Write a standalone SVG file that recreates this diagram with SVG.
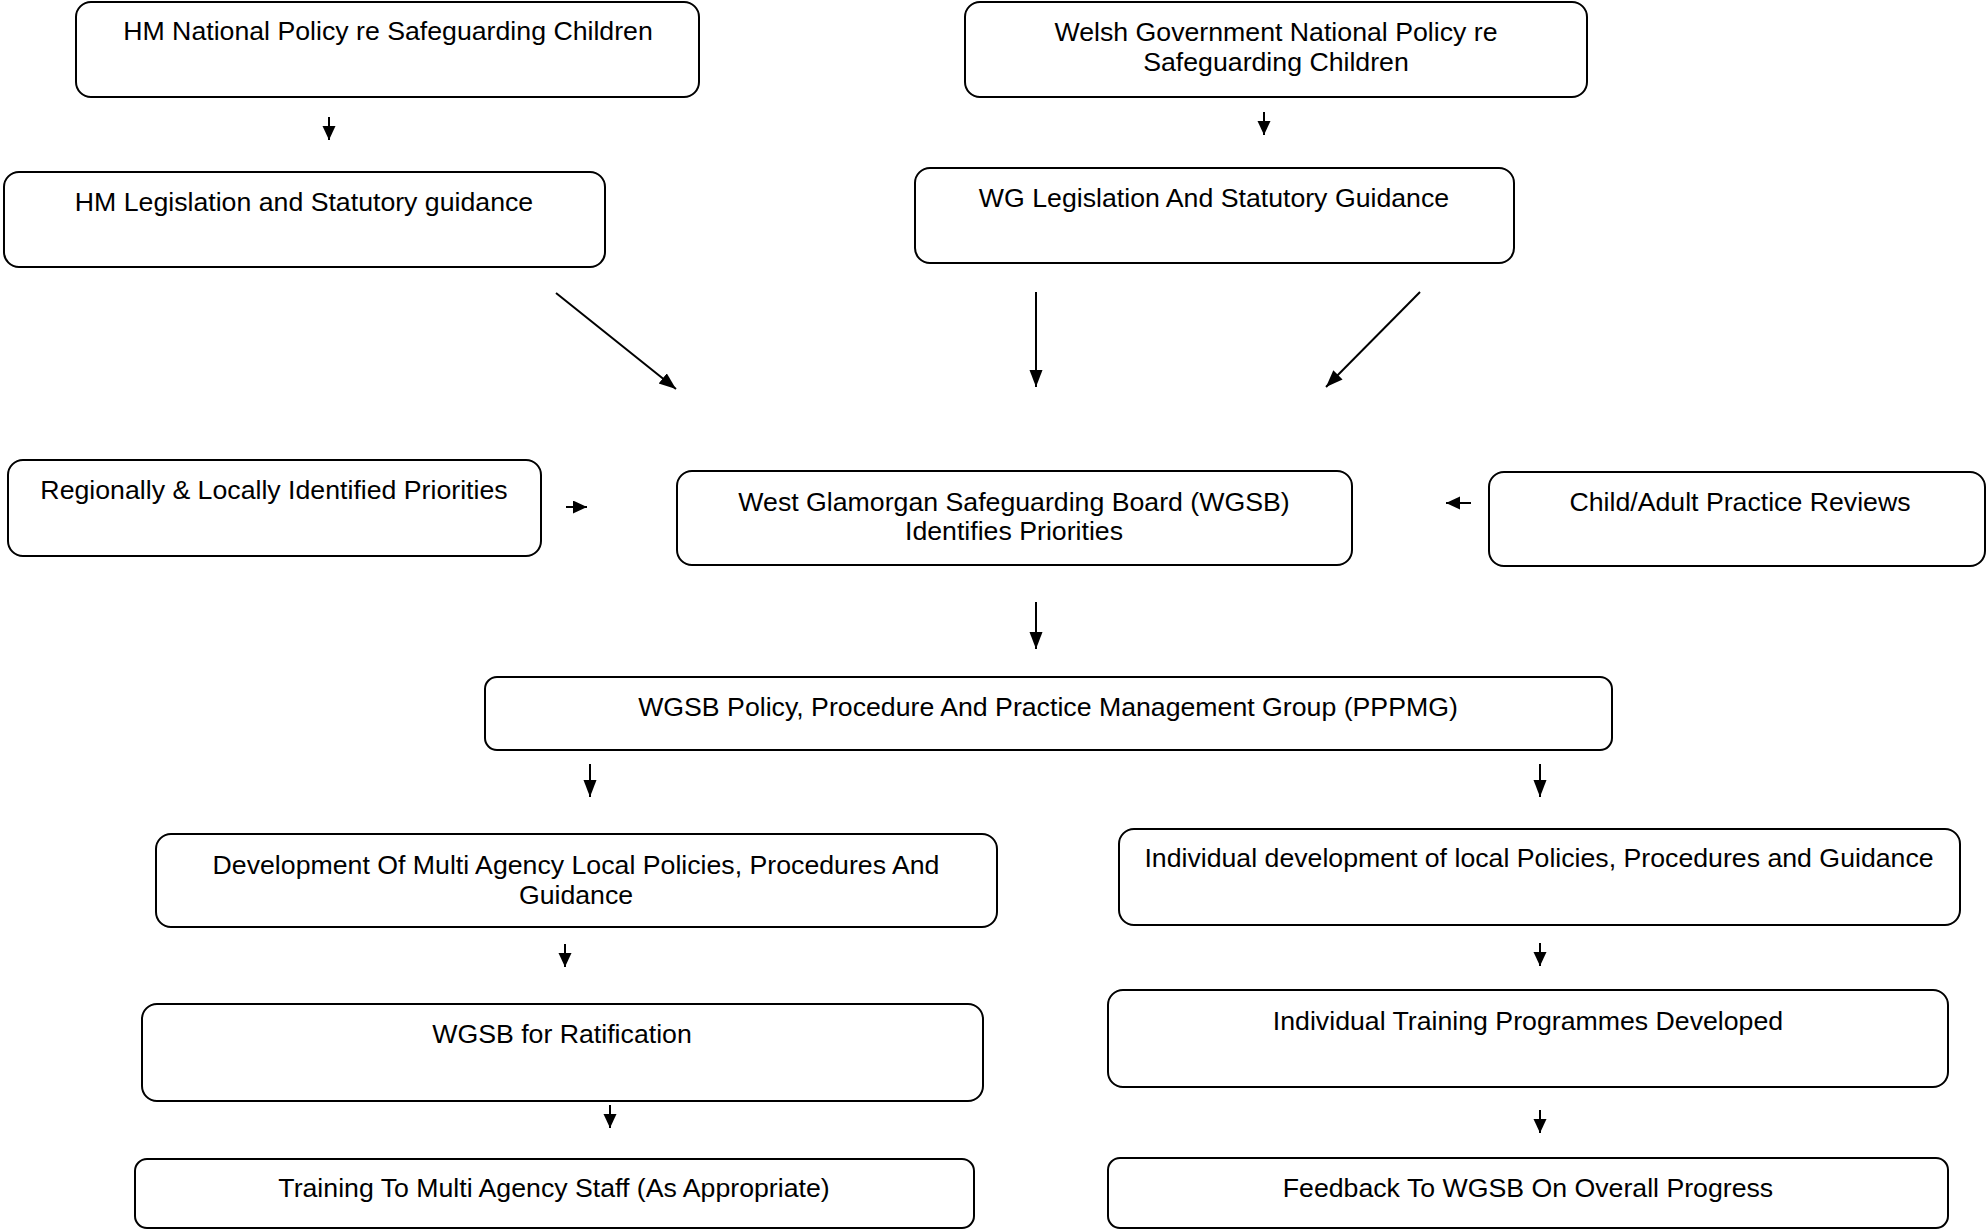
<svg xmlns="http://www.w3.org/2000/svg" width="1987" height="1230" viewBox="0 0 1987 1230">
<style>
.box{fill:#fff;stroke:#000;stroke-width:2}
.t{font-family:"Liberation Sans",Arial,sans-serif;font-size:26.7px;fill:#000;text-anchor:middle}
.c{stroke:#000;stroke-width:2;fill:none}
.cb{marker-end:url(#big)}
.cs{marker-end:url(#small)}
</style>
<defs>
<marker id="big" markerUnits="userSpaceOnUse" markerWidth="18" markerHeight="14" refX="17" refY="6.5" orient="auto">
<path d="M0,0 L17,6.5 L0,13 z" fill="#000"/>
</marker>
<marker id="small" markerUnits="userSpaceOnUse" markerWidth="16" markerHeight="14" refX="14" refY="6.5" orient="auto">
<path d="M0,0 L14,6.5 L0,13 z" fill="#000"/>
</marker>
</defs>
<rect width="1987" height="1230" fill="#fff"/>

<g id="connectors">
<line class="c cs" x1="329" y1="117" x2="329" y2="140"/>
<line class="c cs" x1="1264" y1="112" x2="1264" y2="135"/>
<line class="c cb" x1="556" y1="293" x2="676" y2="389"/>
<line class="c cb" x1="1036" y1="292" x2="1036" y2="387"/>
<line class="c cb" x1="1420" y1="292" x2="1326" y2="387"/>
<line class="c cs" x1="566" y1="507" x2="587" y2="507"/>
<line class="c cs" x1="1471" y1="503" x2="1446" y2="503"/>
<line class="c cb" x1="1036" y1="602" x2="1036" y2="649"/>
<line class="c cb" x1="590" y1="764" x2="590" y2="797"/>
<line class="c cb" x1="1540" y1="764" x2="1540" y2="797"/>
<line class="c cs" x1="565" y1="944" x2="565" y2="967"/>
<line class="c cs" x1="1540" y1="943" x2="1540" y2="966"/>
<line class="c cs" x1="610" y1="1105" x2="610" y2="1128"/>
<line class="c cs" x1="1540" y1="1110" x2="1540" y2="1133"/>
</g>

<g id="hm-national">
<rect class="box" x="76" y="2" width="623" height="95" rx="15"/>
<text class="t" x="388" y="40">HM National Policy re Safeguarding Children</text>
</g>
<g id="welsh-national">
<rect class="box" x="965" y="2" width="622" height="95" rx="15"/>
<text class="t" x="1276" y="41">Welsh Government National Policy re</text>
<text class="t" x="1276" y="71">Safeguarding Children</text>
</g>
<g id="hm-legislation">
<rect class="box" x="4" y="172" width="601" height="95" rx="15"/>
<text class="t" x="304" y="211">HM Legislation and Statutory guidance</text>
</g>
<g id="wg-legislation">
<rect class="box" x="915" y="168" width="599" height="95" rx="15"/>
<text class="t" x="1214" y="207">WG Legislation And Statutory Guidance</text>
</g>
<g id="regional">
<rect class="box" x="8" y="460" width="533" height="96" rx="15"/>
<text class="t" x="274" y="499">Regionally &amp; Locally Identified Priorities</text>
</g>
<g id="wgsb">
<rect class="box" x="677" y="471" width="675" height="94" rx="15"/>
<text class="t" x="1014" y="511">West Glamorgan Safeguarding Board (WGSB)</text>
<text class="t" x="1014" y="540">Identifies Priorities</text>
</g>
<g id="practice-reviews">
<rect class="box" x="1489" y="472" width="496" height="94" rx="15"/>
<text class="t" x="1740" y="511">Child/Adult Practice Reviews</text>
</g>
<g id="pppmg">
<rect class="box" x="485" y="677" width="1127" height="73" rx="12"/>
<text class="t" x="1048" y="716">WGSB Policy, Procedure And Practice Management Group (PPPMG)</text>
</g>
<g id="multi-agency-dev">
<rect class="box" x="156" y="834" width="841" height="93" rx="15"/>
<text class="t" x="576" y="874">Development Of Multi Agency Local Policies, Procedures And</text>
<text class="t" x="576" y="904">Guidance</text>
</g>
<g id="individual-dev">
<rect class="box" x="1119" y="829" width="841" height="96" rx="15"/>
<text class="t" x="1539" y="867">Individual development of local Policies, Procedures and Guidance</text>
</g>
<g id="ratification">
<rect class="box" x="142" y="1004" width="841" height="97" rx="15"/>
<text class="t" x="562" y="1043">WGSB for Ratification</text>
</g>
<g id="individual-training">
<rect class="box" x="1108" y="990" width="840" height="97" rx="15"/>
<text class="t" x="1528" y="1030">Individual Training Programmes Developed</text>
</g>
<g id="multi-agency-training">
<rect class="box" x="135" y="1159" width="839" height="69" rx="12"/>
<text class="t" x="554" y="1197">Training To Multi Agency Staff (As Appropriate)</text>
</g>
<g id="feedback">
<rect class="box" x="1108" y="1158" width="840" height="70" rx="12"/>
<text class="t" x="1528" y="1197">Feedback To WGSB On Overall Progress</text>
</g>
</svg>
